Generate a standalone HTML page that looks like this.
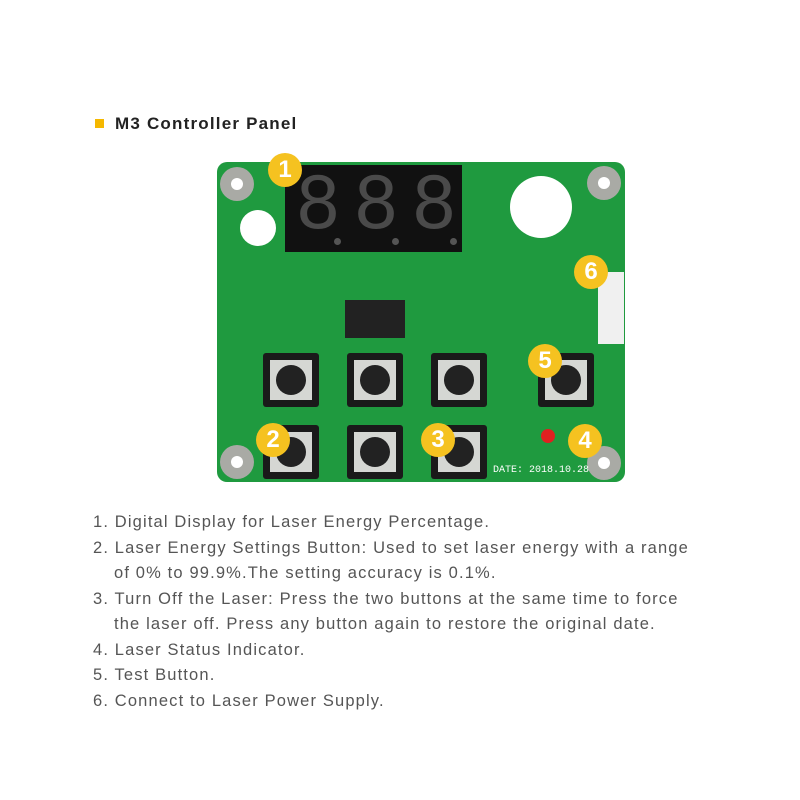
<!DOCTYPE html>
<html><head><meta charset="utf-8"><style>
body{margin:0;width:800px;height:800px;background:#fff;position:relative;overflow:hidden;font-family:"Liberation Sans",sans-serif}
.a{position:absolute}
.title{left:115px;top:114px;font-size:17px;font-weight:bold;color:#222;letter-spacing:1.2px}
.sq{left:95px;top:119px;width:9px;height:9px;background:#f5b800}
.list{left:93px;top:510px;width:598px;font-size:16.5px;color:#555;line-height:25.5px;letter-spacing:1.15px}
.list div{padding-left:21px;text-indent:-21px}
.pcb{left:217px;top:162px;width:408px;height:320px;background:#1f9a3f;border-radius:10px}
.hole{border-radius:50%;background:#fff}
.mh{width:34px;height:34px;border-radius:50%;background:#a9aaa5}
.mh::after{content:"";position:absolute;left:11px;top:11px;width:12px;height:12px;border-radius:50%;background:#fff}
.btn{width:56px;height:54px;background:#1a1a1a;border-radius:3px}
.btn::before{content:"";position:absolute;left:7px;top:7px;width:42px;height:40px;background:#d5d7d3}
.btn::after{content:"";position:absolute;left:13px;top:12px;width:30px;height:30px;border-radius:50%;background:#222}
.b{width:34px;height:34px;border-radius:50%;background:#f5c220;color:#fff;font-weight:bold;font-size:24px;text-align:center;line-height:34px}
.disp{left:285px;top:165px;width:177px;height:87px;background:#111}
.seg{font-family:"Liberation Mono",monospace;color:#4a4a4a;font-size:80px;line-height:80px;top:168px;transform:scaleX(0.95)}
.dot{width:7px;height:7px;border-radius:50%;background:#555;top:238px}
</style></head><body>
<div class="a sq"></div><div class="a title">M3 Controller Panel</div>
<div class="a pcb"></div>
<div class="a hole" style="left:240px;top:210px;width:36px;height:36px"></div>
<div class="a hole" style="left:510px;top:176px;width:62px;height:62px"></div>
<div class="a mh" style="left:220px;top:167px"></div>
<div class="a mh" style="left:587px;top:166px"></div>
<div class="a mh" style="left:220px;top:445px"></div>
<div class="a mh" style="left:587px;top:446px"></div>
<div class="a disp"></div>
<div class="a seg" style="left:294px">8</div>
<div class="a seg" style="left:352px">8</div>
<div class="a seg" style="left:410px">8</div>
<div class="a dot" style="left:334px"></div>
<div class="a dot" style="left:392px"></div>
<div class="a dot" style="left:450px"></div>
<div class="a" style="left:345px;top:300px;width:60px;height:38px;background:#222"></div>
<div class="a" style="left:598px;top:272px;width:26px;height:72px;background:#f0f0f0"></div>
<div class="a" style="left:541px;top:429px;width:14px;height:14px;border-radius:50%;background:#e02020"></div>
<div class="a" style="left:493px;top:465px;font-size:10px;color:#fff;font-family:'Liberation Mono',monospace">DATE: 2018.10.28</div>
<div class="a btn" style="left:263px;top:353px"></div>
<div class="a btn" style="left:347px;top:353px"></div>
<div class="a btn" style="left:431px;top:353px"></div>
<div class="a btn" style="left:538px;top:353px"></div>
<div class="a btn" style="left:263px;top:425px"></div>
<div class="a btn" style="left:347px;top:425px"></div>
<div class="a btn" style="left:431px;top:425px"></div>
<div class="a b" style="left:268px;top:153px">1</div>
<div class="a b" style="left:256px;top:423px">2</div>
<div class="a b" style="left:421px;top:423px">3</div>
<div class="a b" style="left:568px;top:424px">4</div>
<div class="a b" style="left:528px;top:344px">5</div>
<div class="a b" style="left:574px;top:255px">6</div>
<div class="a list">
<div>1. Digital Display for Laser Energy Percentage.</div>
<div>2. Laser Energy Settings Button: Used to set laser energy with a range of 0% to 99.9%.The setting accuracy is 0.1%.</div>
<div>3. Turn Off the Laser: Press the two buttons at the same time to force the laser off. Press any button again to restore the original date.</div>
<div>4. Laser Status Indicator.</div>
<div>5. Test Button.</div>
<div>6. Connect to Laser Power Supply.</div>
</div>
</body></html>
